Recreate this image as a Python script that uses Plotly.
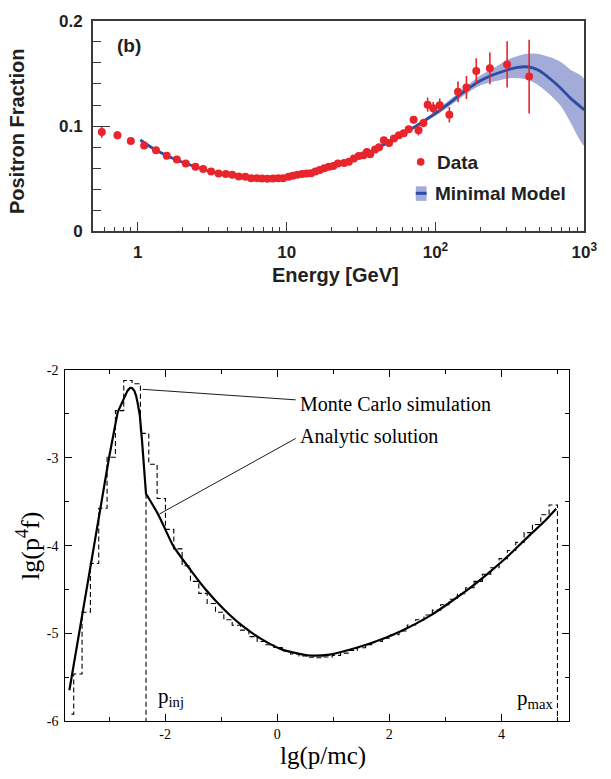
import plotly.graph_objects as go

# ---------------- top panel: positron fraction ----------------
energy = [0.573, 0.730, 0.898, 1.104, 1.325, 1.565, 1.83, 2.10, 2.44, 2.75, 3.11, 3.49,
          3.90, 4.31, 4.77, 5.28, 5.78, 6.30, 6.83, 7.43, 8.1, 8.78, 9.47, 10.3, 11.0,
          11.8, 12.7, 13.6, 14.6, 15.6, 16.7, 17.9, 19.2, 20.6, 22.1, 24.3, 26.2, 28.3,
          30.5, 32.9, 34.6, 36.4, 39.3, 41.8, 45.0, 48.8, 52.6, 56.8, 61.2, 66.1, 71.3,
          76.9, 83.0, 88.6, 96.6, 106.8, 124, 141.7, 161.5, 188, 232, 303, 426]
fraction = [0.0944, 0.0914, 0.0858, 0.0815, 0.0771, 0.0719, 0.0682, 0.0645, 0.0614, 0.0593,
            0.0568, 0.0549, 0.0546, 0.0537, 0.0521, 0.0519, 0.0506, 0.0506, 0.0503, 0.0500,
            0.0503, 0.0506, 0.0506, 0.0519, 0.0528, 0.0537, 0.0546, 0.0549, 0.0553, 0.0568,
            0.0583, 0.0599, 0.0614, 0.0620, 0.0645, 0.0649, 0.0662, 0.0692, 0.0717, 0.0723,
            0.0754, 0.0732, 0.0778, 0.0800, 0.0865, 0.0840, 0.0883, 0.0914, 0.0932, 0.0969,
            0.1060, 0.0960, 0.1030, 0.1203, 0.1169, 0.1197, 0.1108, 0.1326, 0.1366, 0.1523,
            0.1548, 0.1585, 0.1470]
frac_err = [0.0055, 0.004, 0.0012,
            0.001, 0.001, 0.001, 0.001, 0.001, 0.001, 0.001, 0.001, 0.001, 0.001, 0.001, 0.001,
            0.001, 0.001, 0.001, 0.001, 0.001, 0.001, 0.001, 0.001, 0.001, 0.001, 0.001, 0.001,
            0.001, 0.001, 0.001, 0.001, 0.001, 0.001, 0.001, 0.001, 0.001, 0.001, 0.001, 0.001,
            0.0012, 0.0015, 0.0015, 0.0015, 0.0015, 0.002, 0.002, 0.002, 0.0022, 0.0025, 0.003,
            0.0035, 0.005, 0.004, 0.0068, 0.006, 0.0065, 0.0074, 0.0097, 0.011, 0.012, 0.015,
            0.022, 0.035]

model_e = [1.04, 1.3, 1.6, 2, 2.5, 3, 4, 5, 6, 7, 8, 10, 12, 15, 20, 25, 30, 40, 50, 60, 80,
           100, 130, 160, 200, 250, 300, 350, 400, 450, 500, 600, 700, 800, 1000]
model_y = [0.0868, 0.0778, 0.0714, 0.0657, 0.0610, 0.0575, 0.0538, 0.0519, 0.0508, 0.0502,
           0.0501, 0.0510, 0.0530, 0.0560, 0.0612, 0.0660, 0.0702, 0.0785, 0.0855, 0.0920,
           0.1030, 0.1120, 0.1240, 0.1340, 0.1431, 0.1492, 0.1530, 0.1554, 0.1563, 0.1552,
           0.1525, 0.1440, 0.1355, 0.1270, 0.1154]
band_hi = [0.0872, 0.0782, 0.0718, 0.0661, 0.0614, 0.0579, 0.0542, 0.0523, 0.0512, 0.0506,
           0.0505, 0.0514, 0.0534, 0.0564, 0.0617, 0.0665, 0.0707, 0.0791, 0.0863, 0.0930,
           0.1045, 0.1142, 0.1270, 0.1375, 0.1480, 0.1557, 0.1625, 0.1660, 0.1683, 0.1688,
           0.1682, 0.1650, 0.1605, 0.1540, 0.1446]
band_lo = [0.0864, 0.0774, 0.0710, 0.0653, 0.0606, 0.0571, 0.0534, 0.0515, 0.0504, 0.0498,
           0.0497, 0.0506, 0.0526, 0.0556, 0.0607, 0.0655, 0.0697, 0.0779, 0.0847, 0.0910,
           0.1015, 0.1098, 0.1210, 0.1305, 0.1385, 0.1425, 0.1450, 0.1455, 0.1446, 0.1418,
           0.1380, 0.1285, 0.1185, 0.1046, 0.0815]

top_xticks = [1, 10, 100, 1000]
top_xtext = ["1", "10", "10<sup>2</sup>", "10<sup>3</sup>"]
top_xminor = [0.6, 0.7, 0.8, 0.9, 2, 3, 4, 5, 6, 7, 8, 9, 20, 30, 40, 50, 60, 70, 80, 90,
              200, 300, 400, 500, 600, 700, 800, 900]
top_yticks = [0, 0.1, 0.2]
top_ytext = ["0", "0.1", "0.2"]

# ---------------- bottom panel: lg(p^4 f) ----------------
analytic_left_x = [-3.707, -3.487, -3.31, -3.15, -3.0, -2.846, -2.77, -2.718, -2.67, -2.625,
                   -2.59, -2.55, -2.515, -2.485, -2.45, -2.41, -2.38, -2.34]
analytic_left_y = [-5.648, -4.815, -4.17, -3.58, -3.0, -2.481, -2.37, -2.296, -2.235, -2.204,
                   -2.205, -2.235, -2.296, -2.39, -2.519, -2.815, -3.074, -3.41]
analytic_right_x = [-2.34, -2.12, -1.857, -1.567, -1.276, -0.956, -0.635, -0.286, 0.09, 0.586,
                    0.935, 1.40, 1.866, 2.27, 2.56, 2.738, 3.087, 3.436, 3.785, 4.134, 4.483,
                    4.775, 4.977]
analytic_right_y = [-3.41, -3.648, -4.0, -4.259, -4.5, -4.722, -4.907, -5.063, -5.185, -5.252,
                    -5.241, -5.167, -5.067, -4.955, -4.86, -4.795, -4.645, -4.485, -4.305,
                    -4.11, -3.895, -3.72, -3.58]

hist_start = -3.63
hist_width = 0.1488
hist_lead = (-3.67, -5.92)
hist_h = [-5.463, -4.759, -4.204, -3.574, -2.993, -2.463, -2.119, -2.156, -2.722, -3.074,
          -3.463, -3.815, -4.037, -4.230, -4.407, -4.544, -4.659, -4.759, -4.844, -4.907,
          -4.963, -5.037, -5.093, -5.130, -5.160, -5.200, -5.235, -5.258, -5.272, -5.278,
          -5.268, -5.250, -5.225, -5.195, -5.163, -5.128, -5.092, -5.055, -5.015, -4.972,
          -4.905, -4.845, -4.790, -4.735, -4.674, -4.611, -4.548, -4.480, -4.407, -4.326,
          -4.252, -4.148, -4.056, -3.963, -3.852, -3.759, -3.648, -3.537]
p_inj = -2.34
p_inj_top = -3.41
y_floor = -6

bot_xticks = [-2, 0, 2, 4]
bot_xtext = ["-2", "0", "2", "4"]
bot_xminor = [-3, -1, 1, 3, 5]
bot_yticks = [-6, -5, -4, -3, -2]
bot_ytext = ["-6", "-5", "-4", "-3", "-2"]
bot_yminor = [-5.5, -4.5, -3.5, -2.5]

RED = "#e8242c"
BLUE = "#2c4ca2"
BAND = "#a3acd9"
TXT = "#231f20"
SANS = "Liberation Sans, Arial, sans-serif"
SERIF = "Liberation Serif, Times New Roman, serif"

fig = go.Figure()

# band
fig.add_trace(go.Scatter(x=model_e + model_e[::-1], y=band_hi + band_lo[::-1],
                         fill="toself", fillcolor=BAND,
                         line=dict(width=0, shape="spline", smoothing=0.8),
                         mode="lines", showlegend=False, hoverinfo="skip",
                         xaxis="x", yaxis="y"))
fig.add_trace(go.Scatter(x=model_e, y=model_y, mode="lines",
                         line=dict(color=BLUE, width=2.8, shape="spline", smoothing=0.8),
                         showlegend=False, xaxis="x", yaxis="y"))
fig.add_trace(go.Scatter(x=energy, y=fraction, mode="markers",
                         marker=dict(color=RED, size=8),
                         error_y=dict(type="data", array=frac_err, color=RED,
                                      thickness=1.6, width=0),
                         showlegend=False, xaxis="x", yaxis="y"))

# histogram (Monte Carlo)
edges = [round(hist_start + hist_width * k, 4) for k in range(len(hist_h) + 1)]
hx = [hist_lead[0]] + edges + [edges[-1]]
hy = [hist_lead[1]] + hist_h + [hist_h[-1], y_floor]
fig.add_trace(go.Scatter(x=hx, y=hy, mode="lines", line_shape="hv",
                         line=dict(color="black", width=1.1, dash="5px,3px"),
                         showlegend=False, xaxis="x2", yaxis="y2"))
fig.add_trace(go.Scatter(x=[p_inj, p_inj], y=[p_inj_top, y_floor], mode="lines",
                         line=dict(color="black", width=1.1, dash="5px,3px"),
                         showlegend=False, xaxis="x2", yaxis="y2"))
# analytic solution
fig.add_trace(go.Scatter(x=analytic_left_x, y=analytic_left_y, mode="lines",
                         line=dict(color="black", width=2.2), showlegend=False,
                         xaxis="x2", yaxis="y2"))
fig.add_trace(go.Scatter(x=analytic_right_x, y=analytic_right_y, mode="lines",
                         line=dict(color="black", width=2.2, shape="spline", smoothing=0.6),
                         showlegend=False, xaxis="x2", yaxis="y2"))

axcol = "#3a3a3a"
fig.update_layout(
    width=611, height=779, margin=dict(l=0, r=0, t=0, b=0),
    paper_bgcolor="white", plot_bgcolor="white", showlegend=False,
    xaxis=dict(domain=[0.1555, 0.9771], anchor="y", type="log", range=[-0.301, 3],
               tickmode="array", tickvals=top_xticks, ticktext=top_xtext,
               ticks="inside", ticklen=10, tickwidth=1.3, tickcolor=axcol,
               minor=dict(tickmode="array", tickvals=top_xminor, ticks="inside",
                          ticklen=5, tickwidth=1.1, tickcolor=axcol),
               showline=True, mirror=True, linecolor=axcol, linewidth=1.8,
               showgrid=False, zeroline=False, ticklabelstandoff=4,
               tickfont=dict(family=SANS, size=17, color=TXT, weight="bold")),
    yaxis=dict(domain=[0.7073, 0.9846], anchor="x", range=[0, 0.2],
               tickmode="array", tickvals=top_yticks, ticktext=top_ytext,
               ticks="inside", ticklen=17, tickwidth=1.3, tickcolor=axcol,
               minor=dict(tickmode="linear", tick0=0, dtick=0.02, ticks="inside",
                          ticklen=8, tickwidth=1.1, tickcolor=axcol),
               showline=True, mirror=True, linecolor=axcol, linewidth=1.8,
               showgrid=False, zeroline=False, ticklabelstandoff=5,
               tickfont=dict(family=SANS, size=17, color=TXT, weight="bold")),
    xaxis2=dict(domain=[0.1092, 0.9509], anchor="y2", range=[-3.78, 5.2],
                tickmode="array", tickvals=bot_xticks, ticktext=bot_xtext,
                ticks="inside", ticklen=7, tickwidth=1, tickcolor="black",
                minor=dict(tickmode="array", tickvals=bot_xminor, ticks="inside",
                           ticklen=4, tickwidth=1, tickcolor="black"),
                showline=True, mirror="allticks", linecolor="black", linewidth=1.2,
                showgrid=False, zeroline=False, ticklabelstandoff=0,
                tickfont=dict(family=SERIF, size=14, color="black")),
    yaxis2=dict(domain=[0.0629, 0.525], anchor="x2", range=[-6, -2],
                tickmode="array", tickvals=bot_yticks, ticktext=bot_ytext,
                ticks="inside", ticklen=7, tickwidth=1, tickcolor="black",
                minor=dict(tickmode="array", tickvals=bot_yminor, ticks="inside",
                           ticklen=4, tickwidth=1, tickcolor="black"),
                showline=True, mirror="allticks", linecolor="black", linewidth=1.2,
                showgrid=False, zeroline=False, ticklabelstandoff=3,
                tickfont=dict(family=SERIF, size=14, color="black")),
)

annotations = [
    # top panel
    dict(text="<b>(b)</b>", xref="x domain", yref="y domain", x=0.044, y=0.884,
         xanchor="left", yanchor="middle", showarrow=False,
         font=dict(family=SANS, size=19, color=TXT)),
    dict(text="<b>Data</b>", xref="x domain", yref="y domain", x=0.697, y=0.325,
         xanchor="left", yanchor="middle", showarrow=False,
         font=dict(family=SANS, size=19, color=TXT)),
    dict(text="<b>Minimal Model</b>", xref="x domain", yref="y domain", x=0.6926, y=0.1806,
         xanchor="left", yanchor="middle", showarrow=False,
         font=dict(family=SANS, size=19, color=TXT)),
    dict(text="<b>Energy [GeV]</b>", xref="paper", yref="paper", x=0.5614, y=0.6495,
         xanchor="center", yanchor="middle", showarrow=False,
         font=dict(family=SANS, size=20, color=TXT)),
    dict(text="<b>Positron Fraction</b>", xref="paper", yref="paper", x=0.0286, y=0.8395,
         xanchor="center", yanchor="middle", showarrow=False, textangle=-90,
         font=dict(family=SANS, size=20, color=TXT)),
    # bottom panel
    dict(text="Monte Carlo simulation", xref="x2", yref="y2", x=0.365, y=-2.389,
         xanchor="left", yanchor="middle", showarrow=False,
         font=dict(family=SERIF, size=20, color="black")),
    dict(text="Analytic solution", xref="x2", yref="y2", x=0.365, y=-2.752,
         xanchor="left", yanchor="middle", showarrow=False,
         font=dict(family=SERIF, size=20, color="black")),
    dict(text="p<sub>inj</sub>", xref="x2", yref="y2", x=-2.16, y=-5.72,
         xanchor="left", yanchor="middle", showarrow=False,
         font=dict(family=SERIF, size=21, color="black")),
    dict(text="p<sub>max</sub>", xref="x2", yref="y2", x=4.96, y=-5.75,
         xanchor="right", yanchor="middle", showarrow=False,
         font=dict(family=SERIF, size=21, color="black")),
    dict(text="lg(p/mc)", xref="paper", yref="paper", x=0.54, y=-0.004,
         xanchor="center", yanchor="bottom", showarrow=False,
         font=dict(family=SERIF, size=25, color="black")),
    dict(text="lg(p<sup>4</sup>f)", xref="paper", yref="paper", x=0.0475, y=0.294,
         xanchor="center", yanchor="middle", showarrow=False, textangle=-90,
         font=dict(family=SERIF, size=26, color="black")),
]
fig.update_layout(annotations=annotations)

shapes = [
    # manual legend
    dict(type="circle", xref="x domain", yref="y domain", xsizemode="pixel",
         ysizemode="pixel", xanchor=0.667, yanchor=0.330, x0=-3.8, x1=3.8, y0=-3.8, y1=3.8,
         fillcolor=RED, line=dict(width=0)),
    dict(type="rect", xref="x domain", yref="y domain", x0=0.657, x1=0.679,
         y0=0.145, y1=0.214, fillcolor=BAND, line=dict(width=0)),
    dict(type="line", xref="x domain", yref="y domain", x0=0.657, x1=0.679,
         y0=0.181, y1=0.181, line=dict(color=BLUE, width=3)),
    # leader lines
    dict(type="line", xref="x2", yref="y2", x0=-2.40, y0=-2.22, x1=0.33, y1=-2.34,
         line=dict(color="black", width=0.9)),
    dict(type="line", xref="x2", yref="y2", x0=-2.10, y0=-3.64, x1=0.33, y1=-2.78,
         line=dict(color="black", width=0.9)),
]
fig.update_layout(shapes=shapes)

fig.write_html("out.html")
